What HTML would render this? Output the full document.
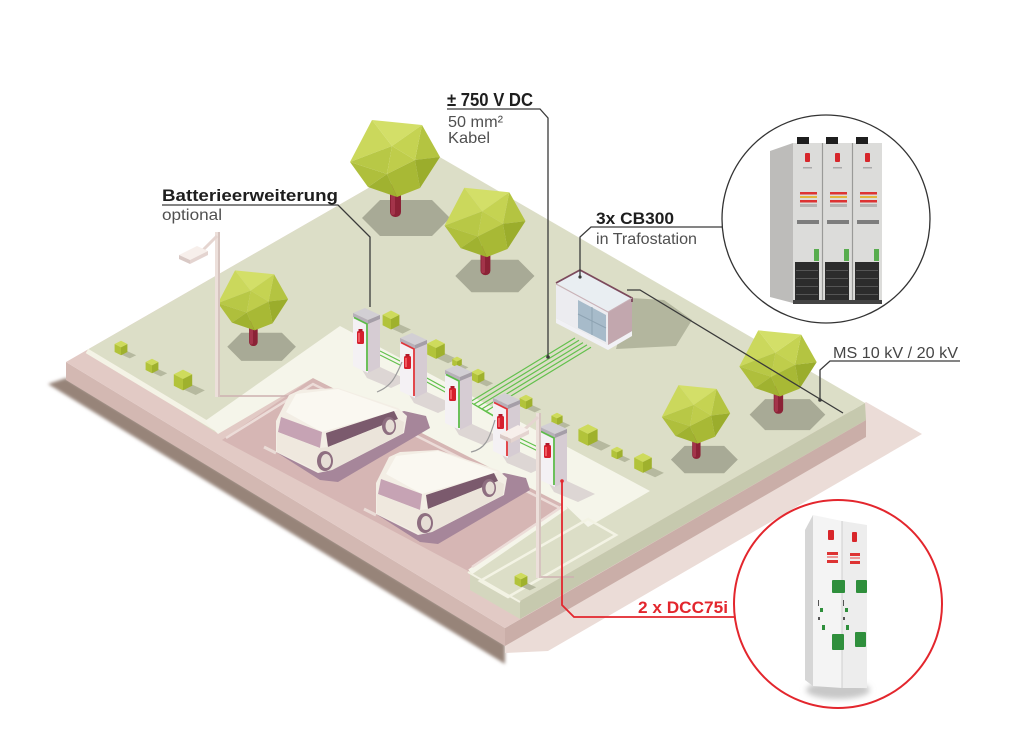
<!DOCTYPE html>
<html><head><meta charset="utf-8"><title>Ladepark</title>
<style>
html,body{margin:0;padding:0;background:#fff;width:1024px;height:742px;overflow:hidden}
svg{display:block}
</style></head><body>
<svg xmlns="http://www.w3.org/2000/svg" width="1024" height="742" viewBox="0 0 1024 742" font-family="'Liberation Sans', sans-serif">
<defs>
<filter id="b1" x="-20%" y="-50%" width="140%" height="200%"><feGaussianBlur stdDeviation="1.6"/></filter>
<filter id="b3" x="-50%" y="-100%" width="200%" height="300%"><feGaussianBlur stdDeviation="3"/></filter>
<g id="bush">
 <polygon points="0,8 8,4 19,9 11,13" fill="#b6b99f"/>
 <polygon points="-8,-5 0,-1 0,9 -8,5" fill="#b2c33a"/>
 <polygon points="0,-1 8,-5 8,5 0,9" fill="#9fb12d"/>
 <polygon points="0,-9 8,-5 0,-1 -8,-5" fill="#cedb5c"/>
</g>
<g id="tree">
 <polygon points="-33,60 -15,42 37,42 55,60 37,78 -15,78" fill="#a8aa96"/>
 <rect x="-5" y="26" width="11" height="33" rx="5" fill="#8b2236"/>
 <rect x="-4" y="26" width="4" height="31" rx="2" fill="#a3344a"/>
 <polygon points="-23,-38 27,-33 -3,-12" fill="#d3df68"/>
 <polygon points="27,-33 45,-1 20,2" fill="#b4c441"/>
 <polygon points="27,-33 20,2 -3,-12" fill="#c5d352"/>
 <polygon points="-23,-38 -3,-12 -45,4" fill="#cbd85c"/>
 <polygon points="-45,4 -3,-12 -8,16" fill="#b8c846"/>
 <polygon points="-3,-12 20,2 -8,16" fill="#bfcd4b"/>
 <polygon points="45,-1 25,30 20,2" fill="#9bad2c"/>
 <polygon points="20,2 25,30 2,39 -8,16" fill="#a8b935"/>
 <polygon points="-45,4 -8,16 -27,29" fill="#afbf3c"/>
 <polygon points="-8,16 2,39 -27,29" fill="#a0b230"/>
</g>
<g id="chg">
 <polygon points="8,60 27,59 55,72 38,80 14,70" fill="#c9bbc1" opacity=".55"/>
 <polygon points="0,9 15,16 15,65 0,58" fill="#f4f1f4"/>
 <polygon points="15,16 27,11 27,59 15,65" fill="#d6ccd3"/>
 <polygon points="0,5 12,0 27,7 15,12" fill="#d2cfd4"/>
 <polygon points="0,5 15,12 15,16 0,9" fill="#b7b0b9"/>
 <polygon points="15,12 27,7 27,11 15,16" fill="#a59ea8"/>
 <rect x="4" y="23" width="7" height="13" rx="1.5" fill="#d61f2d"/>
 <rect x="5.5" y="21" width="4" height="2.5" fill="#b0182a"/>
 <rect x="5" y="25" width="2" height="9" fill="#ef5a62"/>
</g>
<g id="car">
 <polygon points="276,452 320,480 338,482 430,428 426,416 404,411" fill="#a6869a"/>
 <polygon points="276,421 289,395 300,390 338,388 398,408 407,416 404,433 332,470 318,473 276,452" fill="#f3eee5"/>
 <polygon points="286,412 296,394 338,389 398,410 322,432" fill="#faf8f1"/>
 <polygon points="281,417 322,432 320,448 278,432" fill="#c6a3b4"/>
 <polygon points="326,433 394,411 398,419 328,447" fill="#7b5a6d"/>
 <polygon points="320,448 328,447 398,419 404,422 403,433 332,470 320,472" fill="#ebe4da"/>
 <polygon points="277,432 320,448 320,472 277,452" fill="#efe8de"/>
 <ellipse cx="325" cy="461" rx="8" ry="10" fill="#8e6e80"/>
 <ellipse cx="326" cy="461" rx="5" ry="7" fill="#e6ddd5"/>
 <ellipse cx="389" cy="426" rx="7" ry="9" fill="#8e6e80"/>
 <ellipse cx="390" cy="426" rx="4.5" ry="6.5" fill="#e6ddd5"/>
</g>
</defs>

<rect width="1024" height="742" fill="#fff"/>

<!-- ground / base -->
<polygon points="48,384 66,378 505,644 505,664" fill="#978479" filter="url(#b1)"/>
<polygon points="866,402 922,434 548,651 505,653 505,640" fill="#ebdcd7"/>
<polygon points="66,362 505,628 505,646 66,380" fill="#d3b8b2"/>
<polygon points="505,628 866,420 866,437 505,646" fill="#caaea8"/>
<polygon points="66,362 431,152 866,420 505,628" fill="#e2cac5"/>
<polygon points="520,601 865,403 866,420 520,619" fill="#c6c9ae"/>
<polygon points="470,572 520,601 520,619 470,590" fill="#d4d6be"/>
<polygon points="222,440 313,378 566,506 470,572" fill="#d6b6b4"/>

<!-- green platform -->
<polygon points="87,350 431,152 865,403 520,601 470,572 566,506 313,378 215,432" fill="#dcdec7"/>
<polyline points="87,351 215,428" fill="none" stroke="#f4f3e6" stroke-width="5"/>

<!-- sidewalk -->
<polygon points="205,421 340,326 650,491 588,527 566,506 313,378 218,434" fill="#f5f5ea"/>
<polyline points="566,506 470,572" fill="none" stroke="#f5f5ea" stroke-width="6"/>
<polygon points="480,581 588,519 616,535 508,597" fill="none" stroke="#f3f3e4" stroke-width="2.5"/>
<polyline points="468,572 520,602" fill="none" stroke="#f3f3e4" stroke-width="2"/>
<!-- lot curb -->
<polyline points="226,438 313,384 560,508 472,567" fill="none" stroke="#ecdcd8" stroke-width="2.5"/>
<!-- stall lines -->
<g stroke="#eadbd6" stroke-width="3" fill="none">
 <line x1="318" y1="478" x2="415" y2="425"/>
 <line x1="418" y1="540" x2="515" y2="487"/>
 <line x1="264" y1="447" x2="276" y2="453"/>
 <line x1="364" y1="509" x2="376" y2="515"/>
</g>

<!-- building shadow -->
<polygon points="630,298 664,300 692,320 676,346 616,349" fill="#b3b69e"/>

<!-- green cables -->
<g fill="none" stroke="#62c04c" stroke-width="1.2">
 <polyline points="575,338 470,402 490,414"/>
 <polyline points="579,340.3 474,404.3 494,416.3"/>
 <polyline points="583,342.6 478,406.6 498,418.6"/>
 <polyline points="587,344.9 482,408.9 502,420.9"/>
 <polyline points="591,347.2 486,411.2 506,423.2"/>
 <line x1="380" y1="351" x2="402" y2="362"/>
 <line x1="380" y1="355" x2="402" y2="366"/>
 <line x1="425" y1="377" x2="447" y2="389"/>
 <line x1="425" y1="381" x2="447" y2="393"/>
 <line x1="517" y1="437" x2="540" y2="448"/>
 <line x1="517" y1="441" x2="540" y2="452"/>
</g>

<!-- back trees -->
<use href="#tree" transform="translate(395,158)"/>
<use href="#tree" transform="translate(485,222) scale(0.9)"/>
<use href="#tree" transform="translate(253,300) scale(0.78)"/>

<!-- building -->
<g>
 <polygon points="556,318 608,345 632,331 632,336 608,350 556,323" fill="#f1f1f5"/>
 <polygon points="556,284 608,312 608,345 556,318" fill="#ececf0"/>
 <polygon points="578,300 606,315 606,342 578,328" fill="#a7bbca"/>
 <line x1="592" y1="307" x2="592" y2="335" stroke="#8ea3b3" stroke-width="1"/>
 <line x1="578" y1="314" x2="606" y2="328" stroke="#8ea3b3" stroke-width="1"/>
 <polygon points="608,312 632,298 632,331 608,345" fill="#c2a7ae"/>
 <polygon points="556,283 580,270 632,298 608,312" fill="#e9eef2"/>
 <polyline points="556,283 580,270 632,298 632,302" fill="none" stroke="#7c4a5c" stroke-width="1.8"/>
 <polyline points="556,284 608,312 632,298" fill="none" stroke="#c9b1b8" stroke-width="1"/>
</g>

<!-- lamp 1 -->
<line x1="219" y1="396" x2="318" y2="396" stroke="#cdb0b0" stroke-width="1.5"/>
<rect x="215" y="232" width="5" height="165" fill="#ecdfda"/>
<rect x="218" y="232" width="2" height="165" fill="#d6c4bf"/>
<line x1="217" y1="236" x2="203" y2="250" stroke="#e5d5d0" stroke-width="3"/>
<polygon points="179,255 197,246 208,251 190,260" fill="#f7efeb"/>
<polygon points="179,255 190,260 190,264 179,259" fill="#d9c9c5"/>
<polygon points="190,260 208,251 208,255 190,264" fill="#e4d4d0"/>

<!-- bushes -->
<use href="#bush" transform="translate(121,348) scale(0.8)"/>
<use href="#bush" transform="translate(152,366) scale(0.8)"/>
<use href="#bush" transform="translate(183,380) scale(1.15)"/>
<use href="#bush" transform="translate(391,320) scale(1.05)"/>
<use href="#bush" transform="translate(436,349) scale(1.1)"/>
<use href="#bush" transform="translate(457,362) scale(0.6)"/>
<use href="#bush" transform="translate(478,376) scale(0.8)"/>
<use href="#bush" transform="translate(526,402) scale(0.8)"/>
<use href="#bush" transform="translate(557,419) scale(0.7)"/>
<use href="#bush" transform="translate(588,435) scale(1.2)"/>
<use href="#bush" transform="translate(617,453) scale(0.7)"/>
<use href="#bush" transform="translate(643,463) scale(1.1)"/>
<use href="#bush" transform="translate(521,580) scale(0.8)"/>

<!-- chargers -->
<g transform="translate(353,308)"><use href="#chg"/><polyline points="1,9.5 14,16 14,63" fill="none" stroke="#5dbb4a" stroke-width="1.8"/></g>
<g transform="translate(400,333)"><use href="#chg"/><polyline points="1,9.5 14,16 14,63" fill="none" stroke="#e0353a" stroke-width="1.8"/></g>
<g transform="translate(445,365)"><use href="#chg"/><polyline points="1,9.5 14,16 14,63" fill="none" stroke="#5dbb4a" stroke-width="1.8"/></g>
<g transform="translate(493,393)"><use href="#chg"/><polyline points="1,9.5 14,16 14,63" fill="none" stroke="#e0353a" stroke-width="1.8"/></g>
<g transform="translate(540,422)"><use href="#chg"/><polyline points="1,9.5 14,16 14,63" fill="none" stroke="#5dbb4a" stroke-width="1.8"/></g>

<!-- charging cables -->
<path d="M402,362 C396,376 392,386 377,392" fill="none" stroke="#9c9c9c" stroke-width="1.2"/>
<path d="M495,420 C489,440 485,449 471,452" fill="none" stroke="#9c9c9c" stroke-width="1.2"/>

<!-- cars -->
<use href="#car"/>
<use href="#car" transform="translate(100,62)"/>

<!-- lamp 2 -->
<line x1="540" y1="577" x2="574" y2="577" stroke="#cdb0b0" stroke-width="1.5"/>
<rect x="536" y="413" width="5" height="165" fill="#ecdfda"/>
<rect x="539" y="413" width="2" height="165" fill="#d6c4bf"/>
<line x1="538" y1="417" x2="525" y2="429" stroke="#e5d5d0" stroke-width="3"/>
<polygon points="500,434 518,425 529,430 511,439" fill="#f7efeb"/>
<polygon points="500,434 511,439 511,443 500,438" fill="#d9c9c5"/>
<polygon points="511,439 529,430 529,434 511,443" fill="#e4d4d0"/>

<!-- front trees -->
<use href="#tree" transform="translate(778,363) scale(0.86)"/>
<use href="#tree" transform="translate(696,414) scale(0.76)"/>

<!-- connectors -->
<g fill="none" stroke="#3a3a3a" stroke-width="1.3">
 <polyline points="162,205 338,205 370,237 370,307"/>
 <polyline points="447,109 540,109 548,118 548,357"/>
 <polyline points="580,277 580,237 591,227 723,227"/>
 <polyline points="627,290 640,290 843,413"/>
 <polyline points="820,400 820,370 830,361 960,361"/>
</g>
<circle cx="548" cy="357" r="1.8" fill="#3a3a3a"/>
<circle cx="820" cy="400" r="1.8" fill="#3a3a3a"/>
<circle cx="580" cy="277" r="1.6" fill="#3a3a3a"/>
<polyline points="562,481 562,605 574,617 737,617" fill="none" stroke="#e3262d" stroke-width="1.8"/>
<circle cx="562" cy="481" r="1.8" fill="#e3262d"/>

<!-- labels -->
<text x="162" y="201" font-size="17" font-weight="bold" fill="#1e1e1e" textLength="176" lengthAdjust="spacingAndGlyphs">Batterieerweiterung</text>
<text x="162" y="220" font-size="15.5" fill="#505050" textLength="60" lengthAdjust="spacingAndGlyphs">optional</text>
<text x="447" y="106" font-size="18" font-weight="bold" fill="#1e1e1e" textLength="86" lengthAdjust="spacingAndGlyphs">± 750 V DC</text>
<text x="448" y="127" font-size="16" fill="#505050" textLength="55" lengthAdjust="spacingAndGlyphs">50 mm²</text>
<text x="448" y="143" font-size="16" fill="#505050" textLength="42" lengthAdjust="spacingAndGlyphs">Kabel</text>
<text x="596" y="224" font-size="17" font-weight="bold" fill="#1e1e1e" textLength="78" lengthAdjust="spacingAndGlyphs">3x CB300</text>
<text x="596" y="244" font-size="16" fill="#505050" textLength="101" lengthAdjust="spacingAndGlyphs">in Trafostation</text>
<text x="833" y="358" font-size="16" fill="#454545" textLength="125" lengthAdjust="spacingAndGlyphs">MS 10 kV / 20 kV</text>
<text x="638" y="613" font-size="17" font-weight="bold" fill="#e3262d" textLength="90" lengthAdjust="spacingAndGlyphs">2 x DCC75i</text>

<!-- CB300 circle -->
<circle cx="826" cy="219" r="104" fill="#fff" stroke="#333" stroke-width="1.3"/>
<g>
 <polygon points="770,151 793,143 793,303 770,297" fill="#bdbcba"/>
 <rect x="793" y="143" width="89" height="160" fill="#dcdcda"/>
 <line x1="822.5" y1="143" x2="822.5" y2="303" stroke="#9a9a98" stroke-width="1.2"/>
 <line x1="852.5" y1="143" x2="852.5" y2="303" stroke="#9a9a98" stroke-width="1.2"/>
 <rect x="797" y="137" width="12" height="7" fill="#1e1e1e"/>
 <rect x="826" y="137" width="12" height="7" fill="#1e1e1e"/>
 <rect x="856" y="137" width="12" height="7" fill="#1e1e1e"/>
 <rect x="805" y="153" width="5" height="9" rx="1" fill="#d7262b"/>
 <rect x="835" y="153" width="5" height="9" rx="1" fill="#d7262b"/>
 <rect x="865" y="153" width="5" height="9" rx="1" fill="#d7262b"/>
 <g fill="#aaa"><rect x="803" y="167" width="9" height="1.5"/><rect x="833" y="167" width="9" height="1.5"/><rect x="863" y="167" width="9" height="1.5"/></g>
 <g fill="#d33"><rect x="800" y="192" width="17" height="2.5"/><rect x="830" y="192" width="17" height="2.5"/><rect x="860" y="192" width="17" height="2.5"/>
  <rect x="800" y="200" width="17" height="2.5"/><rect x="830" y="200" width="17" height="2.5"/><rect x="860" y="200" width="17" height="2.5"/></g>
 <g fill="#e3b43c"><rect x="800" y="196" width="17" height="2"/><rect x="830" y="196" width="17" height="2"/><rect x="860" y="196" width="17" height="2"/></g>
 <g fill="#b5b5b3"><rect x="800" y="204" width="17" height="3"/><rect x="830" y="204" width="17" height="3"/><rect x="860" y="204" width="17" height="3"/></g>
 <g fill="#7d7d7d"><rect x="797" y="220" width="22" height="4"/><rect x="827" y="220" width="22" height="4"/><rect x="857" y="220" width="22" height="4"/></g>
 <g fill="#58ad4f"><rect x="814" y="249" width="5" height="12"/><rect x="844" y="249" width="5" height="12"/><rect x="874" y="249" width="5" height="12"/></g>
 <g fill="#2c2c2c"><rect x="795" y="262" width="24" height="39"/><rect x="825" y="262" width="24" height="39"/><rect x="855" y="262" width="24" height="39"/></g>
 <g fill="#555"><rect x="796" y="270" width="22" height="1"/><rect x="796" y="278" width="22" height="1"/><rect x="796" y="286" width="22" height="1"/><rect x="796" y="294" width="22" height="1"/>
  <rect x="826" y="270" width="22" height="1"/><rect x="826" y="278" width="22" height="1"/><rect x="826" y="286" width="22" height="1"/><rect x="826" y="294" width="22" height="1"/>
  <rect x="856" y="270" width="22" height="1"/><rect x="856" y="278" width="22" height="1"/><rect x="856" y="286" width="22" height="1"/><rect x="856" y="294" width="22" height="1"/></g>
 <rect x="793" y="300" width="89" height="4" fill="#444"/>
</g>

<!-- DCC75i circle -->
<circle cx="838" cy="604" r="104" fill="#fff" stroke="#e3262d" stroke-width="2"/>
<g>
 <ellipse cx="838" cy="690" rx="32" ry="9" fill="#c8c8c8" filter="url(#b3)"/>
 <polygon points="805,530 813,515 813,686 805,680" fill="#d6d6d6"/>
 <polygon points="813,515 842,521 842,688 813,686" fill="#f4f4f4"/>
 <polygon points="842,521 867,525 867,688 842,688" fill="#ededed"/>
 <line x1="842" y1="521" x2="842" y2="688" stroke="#cfcfcf" stroke-width="1"/>
 <rect x="828" y="530" width="6" height="10" rx="1" fill="#d8262b"/>
 <rect x="852" y="532" width="5" height="10" rx="1" fill="#d8262b"/>
 <g fill="#d33"><rect x="827" y="552" width="11" height="3"/><rect x="827" y="560" width="11" height="3"/><rect x="850" y="553" width="10" height="3"/><rect x="850" y="561" width="10" height="3"/></g>
 <g fill="#e99"><rect x="827" y="556" width="11" height="2"/><rect x="850" y="557" width="10" height="2"/></g>
 <g fill="#2f8f3c"><rect x="832" y="580" width="13" height="13" rx="1"/><rect x="856" y="580" width="11" height="13" rx="1"/>
  <rect x="832" y="634" width="12" height="16" rx="1"/><rect x="855" y="632" width="11" height="15" rx="1"/>
  <rect x="820" y="608" width="3" height="4"/><rect x="845" y="608" width="3" height="4"/>
  <rect x="822" y="625" width="3" height="5"/><rect x="846" y="625" width="3" height="5"/></g>
 <g fill="#555"><rect x="818" y="600" width="1" height="6"/><rect x="843" y="600" width="1" height="6"/><rect x="818" y="617" width="2" height="3"/><rect x="843" y="617" width="2" height="3"/></g>
</g>
</svg>
</body></html>
